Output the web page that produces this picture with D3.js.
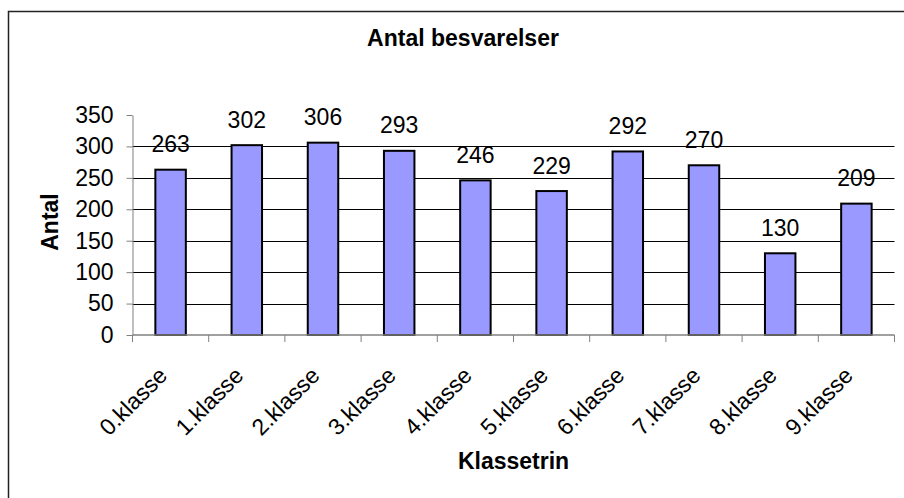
<!DOCTYPE html>
<html>
<head>
<meta charset="utf-8">
<script src="https://cdn.jsdelivr.net/npm/d3@7"></script>
<style>
  body { margin: 0; background: #fff; }
  svg text { font-family: "Liberation Sans", Arial, sans-serif; fill: #000; }
</style>
</head>
<body>
<div id="visualization"></div>
<script>
// Data
const categories = ["0.klasse", "1.klasse", "2.klasse", "3.klasse", "4.klasse",
    "5.klasse", "6.klasse", "7.klasse", "8.klasse", "9.klasse"];
const values = [263, 302, 306, 293, 246, 229, 292, 270, 130, 209];
const yTicks = [0, 50, 100, 150, 200, 250, 300, 350];
const chartTitle = "Antal besvarelser";
const xTitle = "Klassetrin";
const yTitle = "Antal";

const width = 904;
const height = 498;
const plot = { left: 132.5, right: 894.5, top: 115, bottom: 335 };

const svg = d3.select("#visualization")
    .append("svg")
    .attr("width", width)
    .attr("height", height);

// outer chart frame (cut off on right and bottom)
svg.append("path")
    .attr("d", `M8.5,${height + 5} V11.5 H${width + 5}`)
    .attr("fill", "none")
    .attr("stroke", "#222")
    .attr("stroke-width", 1.5);

const xScale = d3.scaleBand()
    .domain(categories)
    .range([plot.left, plot.right])
    .padding(0);

const yScale = d3.scaleLinear()
    .domain([0, 350])
    .range([plot.bottom, plot.top]);

// Gridlines
svg.append("g")
    .selectAll("line")
    .data(yTicks.filter(d => d > 0 && d < 350))
    .enter()
    .append("line")
    .attr("x1", plot.left)
    .attr("x2", plot.right)
    .attr("y1", d => Math.round(yScale(d)) + 0.5)
    .attr("y2", d => Math.round(yScale(d)) + 0.5)
    .attr("stroke", "#000")
    .attr("stroke-width", 1);

// Bars
const barW = xScale.bandwidth() * 0.4;
svg.selectAll(".bar")
    .data(values)
    .enter()
    .append("rect")
    .attr("class", "bar")
    .attr("x", (d, i) => xScale(categories[i]) + (xScale.bandwidth() - barW) / 2)
    .attr("y", d => yScale(d))
    .attr("width", barW)
    .attr("height", d => plot.bottom - yScale(d))
    .attr("fill", "#9999FF")
    .attr("stroke", "#000")
    .attr("stroke-width", 2);

// Value labels
svg.selectAll(".value")
    .data(values)
    .enter()
    .append("text")
    .attr("class", "value")
    .attr("x", (d, i) => xScale(categories[i]) + xScale.bandwidth() / 2)
    .attr("y", d => yScale(d) - 17.5)
    .attr("text-anchor", "middle")
    .style("font-size", "23px")
    .text(d => d);

// Y axis
const yAxis = svg.append("g")
    .attr("transform", `translate(${plot.left},0)`)
    .call(d3.axisLeft(yScale).tickValues(yTicks).tickSize(6).tickPadding(13).tickSizeOuter(0));
yAxis.select(".domain").attr("stroke", "#808080");
yAxis.selectAll(".tick line").attr("stroke", "#808080");
yAxis.selectAll(".tick text")
    .style("font-size", "23px")
    .attr("font-family", null);

// X axis: ticks at band boundaries
const xAxis = svg.append("g")
    .attr("transform", `translate(0,${plot.bottom})`);
xAxis.append("line")
    .attr("x1", plot.left)
    .attr("x2", plot.right)
    .attr("stroke", "#808080")
    .attr("stroke-width", 1.5);
const bounds = categories.map(c => xScale(c)).concat([plot.right]);
xAxis.selectAll(".xtick")
    .data(bounds)
    .enter()
    .append("line")
    .attr("x1", d => d)
    .attr("x2", d => d)
    .attr("y1", 0)
    .attr("y2", 7)
    .attr("stroke", "#808080");
xAxis.selectAll(".xlabel")
    .data(categories)
    .enter()
    .append("text")
    .attr("transform", d => `translate(${xScale(d) + xScale.bandwidth() / 2 - 2},42) rotate(-45)`)
    .attr("text-anchor", "end")
    .style("font-size", "23px")
    .text(d => d);

// Titles
svg.append("text")
    .attr("x", 463)
    .attr("y", 46)
    .attr("text-anchor", "middle")
    .style("font-size", "23px")
    .style("font-weight", "bold")
    .text(chartTitle);

svg.append("text")
    .attr("x", (plot.left + plot.right) / 2)
    .attr("y", 469)
    .attr("text-anchor", "middle")
    .style("font-size", "23px")
    .style("font-weight", "bold")
    .text(xTitle);

svg.append("text")
    .attr("transform", `translate(58,222) rotate(-90)`)
    .attr("text-anchor", "middle")
    .style("font-size", "23px")
    .style("font-weight", "bold")
    .text(yTitle);
</script>
</body>
</html>
